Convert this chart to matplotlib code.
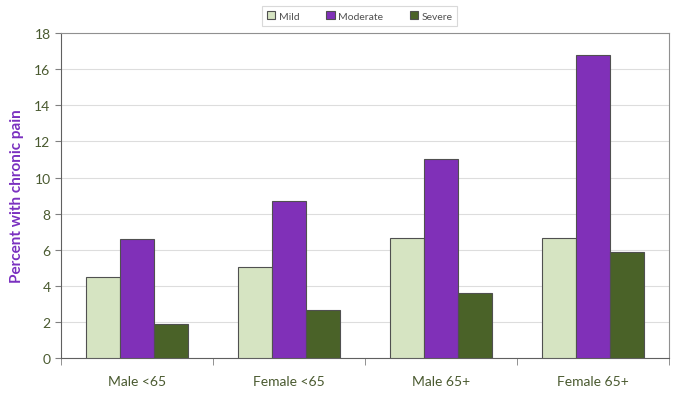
import numpy as np
import matplotlib.pyplot as plt

categories = ['Male <65', 'Female <65', 'Male 65+', 'Female 65+']
mild = [4.5, 5.05, 6.65, 6.65]
moderate = [6.6, 8.7, 11.0, 16.8]
severe = [1.9, 2.65, 3.6, 5.9]
series = ['Mild', 'Moderate', 'Severe']
colors = ['#d6e4c2', '#8030b8', '#4a6228']

plt.rcParams['font.family'] = ['Lato', 'DejaVu Sans']
text_col = '#4a5a30'

fig = plt.figure(figsize=(6.85, 4.02), dpi=100)
ax = fig.add_axes([0.089, 0.107, 0.888, 0.808])

x = np.arange(len(categories))
w = 0.224
for i, (vals, name, c) in enumerate(zip([mild, moderate, severe], series, colors)):
    ax.bar(x + (i - 1) * w, vals, w, color=c, edgecolor='#505050', linewidth=0.8,
           label=name, zorder=3)

ax.set_xlim(-0.5, len(categories) - 0.5)
ax.set_ylim(0, 18)
ax.set_yticks(range(0, 19, 2))
ax.grid(axis='y', color='#dddddd', linewidth=0.8, zorder=0)
ax.set_xticks(x)
ax.set_xticklabels(categories, color=text_col, fontsize=10)
ax.set_xticks(np.arange(-0.5, len(categories)), minor=True)
ax.tick_params(axis='x', which='major', length=0, pad=12)
ax.tick_params(axis='x', which='minor', length=5, color='#808080')
ax.tick_params(axis='y', colors=text_col, labelsize=10, length=4, color='#808080')
for s in ['left', 'bottom']:
    ax.spines[s].set_color('#606060')
for s in ['top', 'right']:
    ax.spines[s].set_color('#909090')

ax.set_ylabel('Percent with chronic pain', color='#7a30c0', fontsize=11,
              fontweight='bold')
ax.yaxis.set_label_coords(-0.061, 0.5)

leg = fig.legend(loc='upper center', bbox_to_anchor=(0.525, 0.995), ncol=3,
                 fontsize=7.5, frameon=True, fancybox=False, handlelength=0.8,
                 handleheight=0.8, handletextpad=0.3, columnspacing=2.6,
                 borderpad=0.5)
leg.get_frame().set_edgecolor('#d0d0d0')
leg.get_frame().set_linewidth(0.8)
for t in leg.get_texts():
    t.set_color('#505050')

fig.savefig('out.png', dpi=100)
